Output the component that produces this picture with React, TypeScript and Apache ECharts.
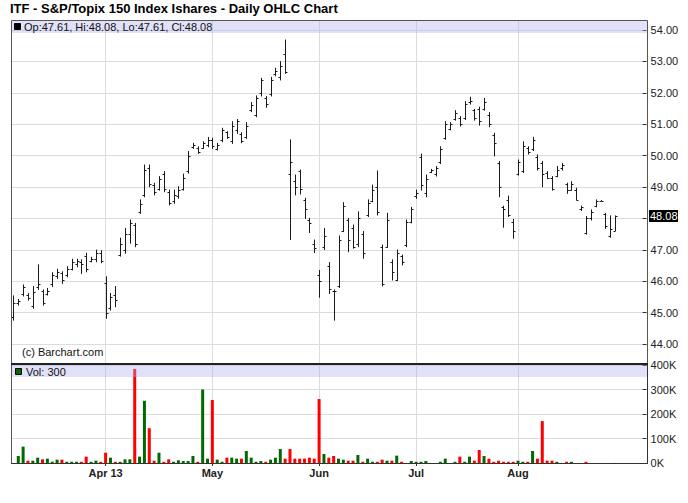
import React, { useEffect, useRef } from "react";
import * as echarts from "echarts";

const TITLE = "ITF - S&P/Topix 150 Index Ishares - Daily OHLC Chart";
const SLOT_COUNT = 131;
const monthTickIndex = [19, 41, 63, 83, 104];
const monthTickLabel = ["Apr 13", "May", "Jun", "Jul", "Aug"];
const PRICE_MIN = 44;
const PRICE_MAX = 54;
const PRICE_STEP = 1;
const VOL_MAX = 400000;
const VOL_STEP = 100000;

const opens = [
  44.85, 45.3, 45.6, 45.55, 45.2, 45.8, 45.7, 45.6, 45.9, 46.15,
  46.25, 46.2, 46.4, 46.55, 46.6, 46.8, 46.65, 46.7, 46.9, 45.95,
  45.15, 45.55, 46.85, 47.0, 47.5, 47.8, 48.2, 48.75, 49.6, 49.05,
  48.95, 49.4, 48.85, 48.55, 48.7, 48.95, 49.5, 50.28, 50.25, 50.25,
  50.35, 50.5, 50.2, 50.5, 50.75, 50.45, 50.8, 50.7, 50.6, 51.45,
  51.3, 52.0, 51.85, 51.95, 52.6, 52.5, 53.25, 49.4, 49.2, 49.5,
  48.6, 47.95, 47.2, 46.2, 47.1, 46.5, 45.7, 45.85, 47.6, 47.95,
  47.7, 47.2, 47.5, 48.1, 48.55, 49.0, 47.1, 47.1, 46.6, 46.05,
  46.8, 47.15, 47.9, 48.7, 49.95, 48.8, 49.48, 49.4, 49.8, 50.55,
  50.85, 51.15, 51.2, 51.2, 51.7, 51.45, 51.5, 51.5, 51.3, 50.65,
  49.75, 48.35, 48.6, 47.9, 49.4, 49.5, 50.25, 50.2, 49.95, 49.75,
  49.45, 49.3, 49.35, 49.6, 49.1, 48.92, 48.9, 48.3, 47.55, 48.0,
  48.4, 48.57, 48.15, 47.45, 47.61,
];
const highs = [
  45.53, 45.42, 45.88, 45.61, 45.83, 46.52, 45.72, 45.77, 46.27, 46.38,
  46.3, 46.46, 46.7, 46.7, 46.68, 46.89, 46.76, 46.99, 46.97, 46.14,
  45.61, 45.83, 47.37, 47.68, 47.95, 47.84, 48.59, 49.7, 49.7, 49.12,
  49.33, 49.49, 48.9, 48.9, 49.01, 49.41, 50.13, 50.39, 50.28, 50.44,
  50.58, 50.55, 50.39, 50.87, 50.76, 51.08, 51.15, 50.73, 51.05, 51.69,
  51.9, 52.46, 51.88, 52.49, 52.78, 52.99, 53.68, 50.5, 49.38, 49.54,
  48.64, 48.0, 47.31, 46.34, 47.68, 46.59, 45.72, 47.44, 48.5, 48.0,
  47.79, 48.21, 47.58, 48.59, 49.06, 49.51, 47.15, 48.16, 46.68, 46.99,
  46.83, 47.95, 48.35, 48.9, 50.05, 49.38, 49.56, 49.65, 50.28, 51.08,
  51.05, 51.43, 51.24, 51.72, 51.86, 51.47, 51.54, 51.82, 51.37, 50.71,
  49.81, 48.39, 48.71, 47.97, 49.86, 50.44, 50.28, 50.58, 50.02, 49.81,
  49.49, 49.33, 49.65, 49.75, 49.12, 49.17, 48.96, 48.39, 48.06, 48.27,
  48.59, 48.57, 48.16, 48.08, 48.08,
];
const lows = [
  44.76, 45.24, 45.53, 45.4, 45.14, 45.74, 45.24, 45.56, 45.83, 46.09,
  45.93, 46.14, 46.36, 46.46, 46.25, 46.3, 46.62, 46.62, 46.59, 44.82,
  45.08, 45.19, 46.8, 46.89, 47.21, 47.1, 48.16, 48.69, 49.01, 48.75,
  48.9, 48.85, 48.43, 48.48, 48.64, 48.9, 49.44, 50.23, 50.07, 50.23,
  50.28, 50.23, 50.18, 50.44, 50.55, 50.39, 50.71, 50.41, 50.55, 51.4,
  51.24, 51.9, 51.54, 51.9, 52.54, 52.41, 52.62, 47.33, 48.75, 48.78,
  48.0, 47.55, 46.91, 45.49, 47.01, 45.61, 44.76, 45.8, 47.58, 46.94,
  47.05, 47.1, 46.73, 48.06, 48.53, 48.11, 45.85, 47.08, 46.04, 46.02,
  46.52, 47.1, 47.86, 48.64, 48.9, 48.69, 49.46, 49.35, 49.75, 50.52,
  50.82, 51.13, 50.94, 51.15, 51.64, 51.13, 50.97, 51.45, 50.92, 49.99,
  48.69, 47.72, 48.06, 47.37, 49.38, 49.46, 50.05, 50.16, 49.54, 49.01,
  49.28, 48.9, 49.33, 49.54, 48.8, 48.9, 48.59, 48.25, 47.5, 47.95,
  48.37, 48.57, 47.68, 47.4, 47.61,
];
const closes = [
  45.3, 45.38, 45.8, 45.45, 45.65, 45.9, 45.3, 45.7, 46.2, 46.3,
  46.05, 46.4, 46.6, 46.65, 46.55, 46.4, 46.72, 46.9, 46.65, 45.0,
  45.5, 45.4, 47.2, 47.5, 47.85, 47.2, 48.45, 49.55, 49.1, 48.85,
  49.25, 48.95, 48.5, 48.75, 48.9, 49.3, 50.0, 50.35, 50.12, 50.4,
  50.5, 50.3, 50.35, 50.8, 50.6, 50.95, 51.1, 50.45, 50.95, 51.6,
  51.85, 52.4, 51.65, 52.4, 52.7, 52.85, 52.65, 49.8, 49.0, 48.95,
  48.3, 47.85, 47.05, 46.0, 47.45, 45.75, 45.68, 47.3, 48.4, 47.3,
  47.1, 48.0, 46.9, 48.5, 48.9, 48.2, 45.9, 47.95, 46.3, 46.9,
  46.6, 47.9, 48.3, 48.8, 49.05, 49.25, 49.54, 49.6, 50.2, 51.0,
  51.0, 51.35, 51.0, 51.65, 51.75, 51.2, 51.1, 51.7, 51.0, 50.4,
  49.0, 48.3, 48.1, 47.6, 49.8, 50.3, 50.1, 50.5, 49.6, 49.4,
  49.3, 48.95, 49.55, 49.7, 48.9, 49.1, 48.6, 48.35, 48.0, 48.2,
  48.55, 48.57, 47.75, 47.65, 48.08,
];
const volumes = [
  0, 28600, 66700, 9500, 9500, 21800, 15000, 17700, 5400, 13600,
  13600, 5000, 5000, 5000, 5000, 25900, 5000, 9500, 5000, 42000,
  21800, 5000, 5000, 15000, 15000, 384000, 25900, 254000, 142000, 9500,
  42000, 5000, 15000, 5000, 11000, 8000, 8000, 28600, 5000, 300000,
  17700, 257000, 13600, 5000, 21800, 21800, 17700, 17700, 49000, 21800,
  5000, 8000, 5000, 13600, 21800, 57000, 17700, 57000, 17700, 17700,
  17700, 21800, 17700, 261000, 36700, 21800, 28600, 17700, 13600, 9500,
  9500, 32700, 5000, 17700, 5000, 5000, 13600, 9500, 9500, 30000,
  5000, 0, 8000, 5000, 5000, 8000, 0, 0, 5000, 17700,
  0, 5000, 26000, 5000, 26000, 9500, 53000, 28600, 17700, 5000,
  9500, 5000, 5000, 5000, 9500, 5000, 5000, 49000, 17700, 171000,
  9500, 9500, 5000, 0, 5000, 5000, 0, 0, 5000, 0,
  0, 0, 0, 0, 300,
];

const FONT = '"Liberation Sans", Arial, Helvetica, sans-serif';
const UP = "#006a00";
const DOWN = "#ff0000";
const BAR = "#1a1a1a";
const GRID = "#dcdcdc";
const BAND = "rgba(175,175,240,0.38)";

// layout
const PLOT_LEFT = 11;
const PLOT_RIGHT = 646.6;
const PLOT_WIDTH = PLOT_RIGHT - PLOT_LEFT;
const SLOT = PLOT_WIDTH / SLOT_COUNT;

export default function App() {
  const ref = useRef<HTMLDivElement>(null);

  useEffect(() => {
    const chart = echarts.init(ref.current!, null, { renderer: "svg" });
    const slots = Array.from({ length: SLOT_COUNT }, (_, i) => String(i));
    const last = opens.length - 1;
    const lastClose = closes[last];
    const isMonth = (index: number) => monthTickIndex.indexOf(index) >= 0;

    const ohlc = opens.map((o, i) => [i, o, highs[i], lows[i], closes[i]]);
    const vol = volumes.map((v, i) => ({
      value: v,
      itemStyle: { color: i > 0 && closes[i] < closes[i - 1] ? DOWN : UP },
    }));

    const header = `Op:${opens[last].toFixed(2)}, Hi:${highs[last].toFixed(2)}, Lo:${lows[last].toFixed(2)}, Cl:${closes[last].toFixed(2)}`;
    const volHeader = `Vol: ${volumes[last]}`;

    const bgLeft = PLOT_LEFT + SLOT / 2;
    const bgWidth = SLOT * (SLOT_COUNT - 1);

    const baseGraphics: any[] = [
      { type: "text", left: 10, top: 2, style: { text: TITLE, font: `bold 13px ${FONT}`, fill: "#000" } },
      { type: "rect", z: 20, shape: { x: 11.5, y: 20.5, width: 636, height: 343 }, style: { fill: "none", stroke: "#555", lineWidth: 1 } },
      { type: "rect", z: 15, shape: { x: 12, y: 21, width: 635, height: 12 }, style: { fill: BAND } },
      { type: "rect", z: 16, shape: { x: 14.5, y: 23.5, width: 6, height: 6 }, style: { fill: "#000", stroke: "#000" } },
      { type: "text", z: 16, x: 24, y: 27, style: { text: header, font: `11px ${FONT}`, fill: "#111", verticalAlign: "middle" } },
      { type: "text", z: 16, x: 22, y: 351.5, style: { text: "(c) Barchart.com", font: `11px ${FONT}`, fill: "#111", verticalAlign: "middle" } },
      { type: "line", z: 21, shape: { x1: 11, y1: 364, x2: 648, y2: 364 }, style: { stroke: "#222", lineWidth: 2 } },
      { type: "rect", z: 15, shape: { x: 12, y: 365, width: 635, height: 12 }, style: { fill: BAND } },
      { type: "rect", z: 16, shape: { x: 15.5, y: 368.5, width: 6, height: 6 }, style: { fill: UP, stroke: "#000" } },
      { type: "text", z: 16, x: 26, y: 371.5, style: { text: volHeader, font: `11px ${FONT}`, fill: "#111", verticalAlign: "middle" } },
      { type: "line", z: 20, shape: { x1: 11.5, y1: 364, x2: 11.5, y2: 464 }, style: { stroke: "#555", lineWidth: 1 } },
      { type: "line", z: 20, shape: { x1: 11, y1: 463.5, x2: 648, y2: 463.5 }, style: { stroke: "#333", lineWidth: 1 } },
      { type: "line", z: 20, shape: { x1: 647.5, y1: 364, x2: 647.5, y2: 464 }, style: { stroke: "#333", lineWidth: 1 } },
    ];

    const option: any = {
      animation: false,
      backgroundColor: "#fff",
      textStyle: { fontFamily: FONT },
      grid: [
        { left: PLOT_LEFT, top: 30, width: PLOT_WIDTH, height: 314 },
        { left: bgLeft, top: 21, width: bgWidth, height: 343 },
        { left: PLOT_LEFT, top: 365, width: PLOT_WIDTH, height: 98 },
        { left: bgLeft, top: 365, width: bgWidth, height: 98 },
      ],
      xAxis: [
        { gridIndex: 0, type: "category", data: slots, boundaryGap: true, show: false },
        {
          gridIndex: 1, type: "category", data: slots, boundaryGap: false,
          axisLine: { show: false }, axisTick: { show: false }, axisLabel: { show: false },
          splitLine: { show: true, interval: (i: number) => isMonth(i), lineStyle: { color: GRID, width: 1 } },
        },
        {
          gridIndex: 2, type: "category", data: slots, boundaryGap: true,
          axisLine: { show: false },
          axisTick: { show: true, alignWithLabel: true, interval: (i: number) => isMonth(i), length: 3, lineStyle: { color: "#333" } },
          axisLabel: {
            interval: (i: number) => isMonth(i),
            formatter: (_v: string, i: number) => {
              const k = monthTickIndex.indexOf(i);
              return k >= 0 ? monthTickLabel[k] : "";
            },
            margin: 4, fontWeight: "bold", fontSize: 11, color: "#222", fontFamily: FONT,
          },
          splitLine: { show: false },
        },
        {
          gridIndex: 3, type: "category", data: slots, boundaryGap: false,
          axisLine: { show: false }, axisTick: { show: false }, axisLabel: { show: false },
          splitLine: { show: true, interval: (i: number) => isMonth(i), lineStyle: { color: GRID, width: 1 } },
        },
      ],
      yAxis: [
        {
          gridIndex: 0, type: "value", position: "right", min: PRICE_MIN, max: PRICE_MAX, interval: PRICE_STEP,
          axisLine: { show: false },
          axisTick: { show: true, inside: true, length: 4, lineStyle: { color: "#333" } },
          axisLabel: {
            margin: 4, fontSize: 11, color: "#222", fontFamily: FONT,
            formatter: (v: number) => (Math.abs(v - lastClose) < 0.3 ? "" : v.toFixed(2)),
          },
          splitLine: { show: true, lineStyle: { color: GRID, width: 1 } },
        },
        { gridIndex: 1, type: "value", show: false },
        {
          gridIndex: 2, type: "value", position: "right", min: 0, max: VOL_MAX, interval: VOL_STEP,
          axisLine: { show: false },
          axisTick: { show: true, inside: true, length: 4, lineStyle: { color: "#333" } },
          axisLabel: { margin: 4, fontSize: 11, color: "#222", fontFamily: FONT, formatter: (v: number) => `${Math.round(v / 1000)}K` },
          splitLine: { show: true, lineStyle: { color: GRID, width: 1 } },
        },
        { gridIndex: 3, type: "value", show: false },
      ],
      series: [
        {
          type: "custom",
          xAxisIndex: 0,
          yAxisIndex: 0,
          data: ohlc,
          encode: { x: 0, y: [1, 2, 3, 4] },
          z: 5,
          renderItem: (_params: any, api: any) => {
            const idx = api.value(0);
            const pH = api.coord([idx, api.value(2)]);
            const pL = api.coord([idx, api.value(3)]);
            const pO = api.coord([idx, api.value(1)]);
            const pC = api.coord([idx, api.value(4)]);
            const cx = Math.round(pH[0]) + 0.5;
            const st = { stroke: BAR, lineWidth: 1 };
            return {
              type: "group",
              children: [
                { type: "line", shape: { x1: cx, y1: pH[1] - 0.5, x2: cx, y2: pL[1] + 0.5 }, style: st },
                { type: "line", shape: { x1: cx - 2, y1: Math.round(pO[1]) + 0.5, x2: cx, y2: Math.round(pO[1]) + 0.5 }, style: st },
                { type: "line", shape: { x1: cx, y1: Math.round(pC[1]) + 0.5, x2: cx + 2, y2: Math.round(pC[1]) + 0.5 }, style: st },
              ],
            };
          },
        },
        {
          type: "bar",
          xAxisIndex: 2,
          yAxisIndex: 2,
          data: vol,
          barWidth: 3,
          z: 5,
        },
      ],
      graphic: baseGraphics,
    };

    chart.setOption(option);
    const py = chart.convertToPixel({ yAxisIndex: 0 } as any, lastClose) as number;
    chart.setOption({
      graphic: [
        ...baseGraphics,
        { type: "rect", z: 22, shape: { x: 649, y: Math.round(py) - 6, width: 29, height: 12 }, style: { fill: "#000" } },
        { type: "text", z: 23, x: 650, y: Math.round(py), style: { text: lastClose.toFixed(2), font: `11px ${FONT}`, fill: "#fff", verticalAlign: "middle" } },
      ],
    });

    return () => chart.dispose();
  }, []);

  return <div ref={ref} style={{ position: "fixed", left: 0, top: 0, width: 688, height: 503 }} />;
}
